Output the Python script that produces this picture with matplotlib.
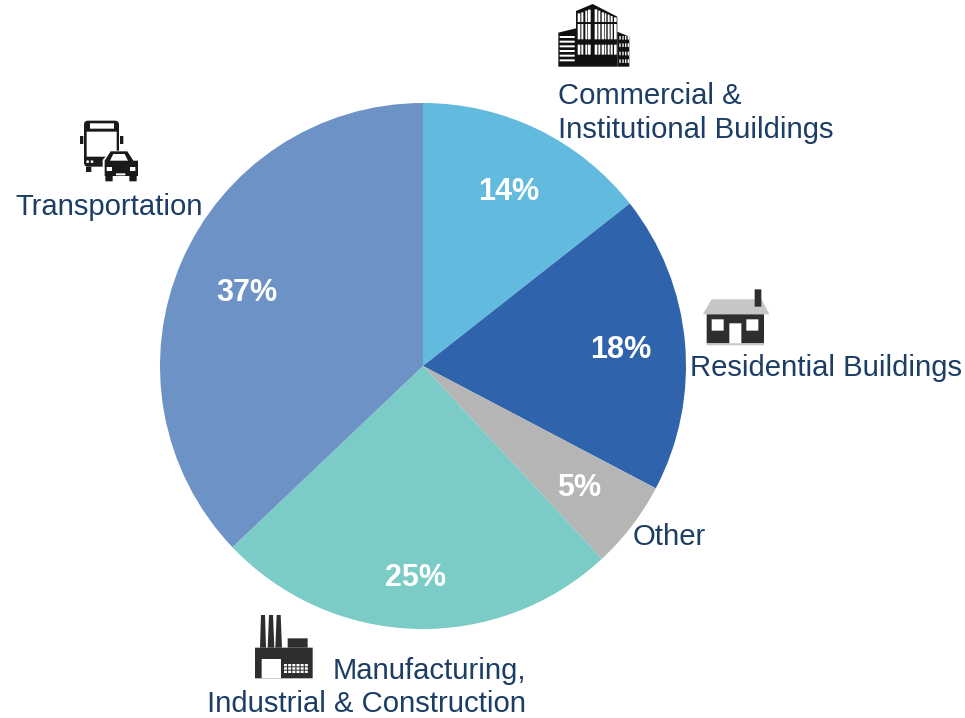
import matplotlib
matplotlib.use('Agg')
import matplotlib.pyplot as plt
from matplotlib.patches import Polygon, Rectangle, FancyBboxPatch, Circle

categories = ['Commercial &\nInstitutional Buildings', 'Residential Buildings', 'Other',
              'Manufacturing,\nIndustrial & Construction', 'Transportation']
shares = [14.4, 18.3, 5.4, 24.8, 37.1]
pct_labels = ['14%', '18%', '5%', '25%', '37%']
colors = ['#62BBDF', '#2F63AB', '#B5B5B5', '#7BCBC6', '#6D92C6']

W, H = 965, 718
CX, CY, R = 423, 366, 263
NAVY = '#1C3D64'
DARK = '#2E2E2E'

plt.rcParams['font.family'] = ['Liberation Sans', 'DejaVu Sans']
fig = plt.figure(figsize=(W / 100, H / 100), dpi=100)

# pie axes sized to the circle
pie_ax = fig.add_axes([(CX - R) / W, 1 - (CY + R) / H, 2 * R / W, 2 * R / H])
pie_ax.pie(shares, colors=colors, startangle=90, counterclock=False, radius=1)
pie_ax.set_xlim(-1, 1)
pie_ax.set_ylim(-1, 1)

# overlay in pixel coordinates for text and icons
ax = fig.add_axes([0, 0, 1, 1])
ax.set_xlim(0, W)
ax.set_ylim(H, 0)
ax.axis('off')
ax.patch.set_alpha(0)

# percent labels
pct_pos = [(509, 192), (621, 350), (579, 488), (416, 578), (247, 293)]
for label, (x, y) in zip(pct_labels, pct_pos):
    ax.text(x, y, label, color='white', fontsize=22, fontweight='bold', ha='center', va='center')

# category labels
label_pos = [(558, 104, 'left'), (690, 376, 'left'), (633, 545, 'left'), (526, 679, 'right'), (15, 215, 'left')]
for cat, (x, y, ha) in zip(categories, label_pos):
    lines = cat.split('\n')
    if ha == 'right':
        # second line of this one is right aligned with the first
        ax.text(x, y, lines[0], color=NAVY, fontsize=21.1, ha='right', va='baseline')
        ax.text(x, y + 33, lines[1], color=NAVY, fontsize=21.1, ha='right', va='baseline')
    else:
        for i, line in enumerate(lines):
            ax.text(x, y + 34 * i, line, color=NAVY, fontsize=21.1, ha=ha, va='baseline')


def poly(pts, ox, oy, color=DARK, z=3):
    ax.add_patch(Polygon([(ox + a / 3, oy + b / 3) for a, b in pts], closed=True, fc=color, ec='none',
                         zorder=z, snap=False))


def rect(x0, y0, x1, y1, ox, oy, color=DARK, z=3):
    ax.add_patch(Rectangle((ox + x0 / 3, oy + y0 / 3), (x1 - x0) / 3, (y1 - y0) / 3, fc=color, ec='none',
                           zorder=z, snap=False))


# office building icon
ox, oy = 540, 0
k = '#111111'
poly([(108, 33), (158, 12), (232, 50), (232, 200), (108, 200)], ox, oy, k)
poly([(55, 98), (108, 85), (108, 200), (55, 200)], ox, oy, k)
poly([(232, 95), (268, 110), (268, 200), (232, 200)], ox, oy, k)
for yy in range(108, 190, 14):
    rect(59, yy, 104, yy + 6, ox, oy, 'white', 4)
tower_cols = [(113, 121, 40), (124, 130, 37), (136, 142, 32), (144, 152, 29), (164, 172, 28),
              (175, 181, 32), (185, 192, 37), (194, 199, 40), (203, 209, 44), (212, 218, 48), (222, 230, 52)]
for x0, x1, top in tower_cols:
    rect(x0, top, x1, 66, ox, oy, 'white', 4)
    rect(x0, 72, x1, 118, ox, oy, 'white', 4)
    rect(x0, 134, x1, 164, ox, oy, 'white', 4)
for xx in [238, 247, 255, 263]:
    for yy in [108, 130, 155, 178]:
        rect(xx, yy, xx + 4, yy + 11, ox, oy, 'white', 4)

# house icon
ox, oy = 690, 280
poly([(65, 58), (215, 58), (238, 103), (38, 103)], ox, oy, '#C6C6C6')
rect(194, 28, 214, 80, ox, oy, DARK, 4)
rect(50, 103, 222, 190, ox, oy, DARK)
rect(50, 190, 222, 196, ox, oy, '#C6C6C6')
rect(65, 118, 101, 152, ox, oy, 'white', 4)
rect(169, 118, 205, 152, ox, oy, 'white', 4)
rect(118, 130, 154, 190, ox, oy, 'white', 4)

# bus and car icon
ox, oy = 70, 110
k = '#1A1A1A'
ax.add_patch(FancyBboxPatch((ox + 42 / 3, oy + 32 / 3), 105 / 3, 138 / 3, boxstyle='round,pad=0,rounding_size=4',
                            fc=k, ec='none', zorder=3))
rect(60, 40, 132, 56, ox, oy, 'white', 4)
rect(50, 65, 140, 140, ox, oy, 'white', 4)
rect(30, 78, 40, 102, ox, oy, k)
rect(150, 78, 160, 102, ox, oy, k)
rect(48, 170, 64, 186, ox, oy, k)
for xx in (53, 66):
    ax.add_patch(Circle((ox + xx / 3, oy + 155 / 3), 1.4, fc='white', ec='none', zorder=4))
poly([(98, 150), (122, 122), (172, 122), (192, 150), (205, 150), (205, 215), (98, 215)], ox, oy, 'white', 5)
poly([(104, 152), (122, 124), (172, 124), (190, 152), (204, 152), (204, 198), (104, 198)], ox, oy, k, 6)
rect(106, 196, 128, 214, ox, oy, k, 6)
rect(178, 196, 200, 214, ox, oy, k, 6)
poly([(120, 152), (130, 132), (164, 132), (174, 152)], ox, oy, 'white', 7)
rect(110, 171, 126, 183, ox, oy, 'white', 7)
rect(180, 171, 196, 183, ox, oy, 'white', 7)
rect(138, 190, 166, 196, ox, oy, 'white', 7)

# factory icon
ox, oy = 245, 605
for a, b, c, d in [(45, 48, 60, 63), (68, 72, 84, 88), (91, 95, 107, 111)]:
    poly([(a, 128), (b, 30), (c, 30), (d, 128)], ox, oy, DARK)
rect(30, 128, 203, 220, ox, oy, DARK)
rect(128, 100, 188, 128, ox, oy, DARK)
rect(50, 162, 108, 220, ox, oy, 'white', 4)
for col in range(6):
    for row in range(3):
        rect(117 + col * 12.5, 177 + row * 10, 126 + col * 12.5, 184 + row * 10, ox, oy, 'white', 4)

fig.savefig('out.png', dpi=100)
